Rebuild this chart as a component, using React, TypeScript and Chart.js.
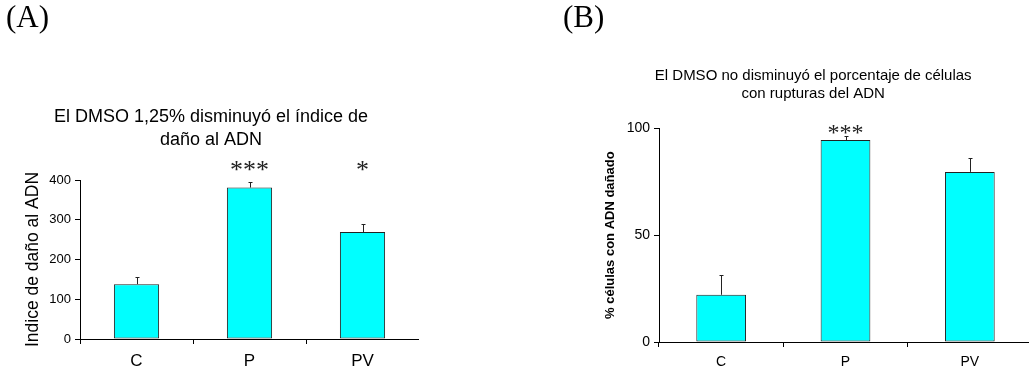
import React, { useEffect, useRef } from 'react';
import { Chart, registerables } from 'chart.js';

Chart.register(...registerables);

// ---------- data ----------
const categories = ['C', 'P', 'PV'];

const damageIndex = [138, 381, 269];
const damageIndexErr = [19, 14, 20];
const damageIndexSig = ['', '***', '*'];
const damageIndexTicks = [0, 100, 200, 300, 400];

const damagedCells = [22.1, 94.5, 79.6];
const damagedCellsErr = [9.3, 1.9, 6.5];
const damagedCellsSig = ['', '***', ''];
const damagedCellsTicks = [0, 50, 100];

const titleA = ['El DMSO 1,25% disminuyó el índice de', 'daño al ADN'];
const yTitleA = 'Indice de daño al ADN';
const titleB = ['El DMSO no disminuyó el porcentaje de células', 'con rupturas del ADN'];
const yTitleB = '% células con ADN dañado';

const SANS = '"Liberation Sans", Arial, Helvetica, sans-serif';
const SERIF = '"Liberation Serif", "Times New Roman", serif';

const errorBarPlugin = {
  id: 'errorBars',
  afterDatasetsDraw(chart: any, _args: any, opts: any) {
    const { ctx } = chart;
    const y = chart.scales.y;
    const meta = chart.getDatasetMeta(0);
    const vals = chart.data.datasets[0].data as number[];
    const errs: number[] = opts.errors || [];
    const sig: string[] = opts.sig || [];
    ctx.save();
    ctx.strokeStyle = opts.color || '#333';
    ctx.lineWidth = 1;
    meta.data.forEach((bar: any, i: number) => {
      const x = Math.round(bar.x) + 0.5;
      const y0 = y.getPixelForValue(vals[i]);
      const y1 = Math.round(y.getPixelForValue(vals[i] + errs[i])) + 0.5;
      ctx.beginPath();
      ctx.moveTo(x, y0);
      ctx.lineTo(x, y1);
      ctx.moveTo(x - 2, y1);
      ctx.lineTo(x + 2, y1);
      ctx.stroke();
    });
    ctx.fillStyle = '#222';
    ctx.font = opts.sigFont;
    ctx.textAlign = 'center';
    ctx.textBaseline = 'middle';
    const sy = y.getPixelForValue(opts.sigLevel);
    meta.data.forEach((bar: any, i: number) => {
      if (sig[i]) ctx.fillText(sig[i], bar.x, sy);
    });
    ctx.restore();
  },
};

const xGridColor = (c: any) => (c.index === undefined ? 'rgba(0,0,0,0)' : '#000');

function makeConfig(p: {
  values: number[];
  errors: number[];
  sig: string[];
  sigLevel: number;
  sigFont: string;
  ticks: number[];
  max: number;
  title: string[];
  titleSize: number;
  titleLineHeight: number;
  titlePadTop: number;
  titlePadBottom: number;
  yTitle: string;
  yTitleFont: any;
  yTitlePad: number;
  yTickSize: number;
  yWidth: number;
  xLabelSize: number;
  xLabelPad: number;
  xHeight: number;
  padLeft: number;
}): any {
  return {
    type: 'bar',
    data: {
      labels: categories,
      datasets: [
        {
          data: p.values,
          backgroundColor: '#00FFFF',
          borderColor: '#222',
          borderWidth: 1,
          borderSkipped: false,
          barPercentage: 0.4,
          categoryPercentage: 1,
        },
      ],
    },
    plugins: [errorBarPlugin],
    options: {
      animation: false,
      responsive: false,
      devicePixelRatio: 1,
      events: [],
      layout: { padding: { left: p.padLeft, right: 0, top: 0, bottom: 0 } },
      plugins: {
        legend: { display: false },
        tooltip: { enabled: false },
        title: {
          display: true,
          text: p.title,
          color: '#000',
          font: { family: SANS, size: p.titleSize, weight: 'normal', lineHeight: p.titleLineHeight },
          padding: { top: p.titlePadTop, bottom: p.titlePadBottom },
        },
        errorBars: { errors: p.errors, sig: p.sig, sigLevel: p.sigLevel, sigFont: p.sigFont, color: '#222' },
      },
      scales: {
        x: {
          grid: { display: true, drawOnChartArea: false, drawTicks: true, tickLength: 5, color: xGridColor, offset: true },
          border: { display: true, color: '#000', width: 1 },
          ticks: { color: '#000', font: { family: SANS, size: p.xLabelSize }, padding: p.xLabelPad },
          afterFit: (s: any) => {
            s.height = p.xHeight;
          },
        },
        y: {
          min: 0,
          max: p.max,
          afterBuildTicks: (s: any) => {
            s.ticks = p.ticks.map((v) => ({ value: v }));
          },
          grid: { display: true, drawOnChartArea: false, drawTicks: true, tickLength: 5, color: '#000' },
          border: { display: true, color: '#000', width: 1 },
          ticks: { color: '#000', font: { family: SANS, size: p.yTickSize }, padding: 4 },
          title: {
            display: true,
            text: p.yTitle,
            color: '#000',
            font: p.yTitleFont,
            padding: { top: p.yTitlePad, bottom: 0 },
          },
          afterFit: (s: any) => {
            s.width = p.yWidth;
          },
        },
      },
    },
  };
}

export default function App() {
  const refA = useRef<HTMLCanvasElement>(null);
  const refB = useRef<HTMLCanvasElement>(null);

  useEffect(() => {
    const a = new Chart(
      refA.current as HTMLCanvasElement,
      makeConfig({
        values: damageIndex,
        errors: damageIndexErr,
        sig: damageIndexSig,
        sigLevel: 423,
        sigFont: `26px ${SERIF}`,
        ticks: damageIndexTicks,
        max: 400,
        title: titleA,
        titleSize: 18,
        titleLineHeight: 23 / 18,
        titlePadTop: 105.5,
        titlePadBottom: 28.5,
        yTitle: yTitleA,
        yTitleFont: { family: SANS, size: 17.5, weight: 'normal' },
        yTitlePad: 19.5,
        yTickSize: 13,
        yWidth: 77,
        xLabelSize: 17,
        xLabelPad: 7.5,
        xHeight: 34,
        padLeft: 3,
      })
    );
    const b = new Chart(
      refB.current as HTMLCanvasElement,
      makeConfig({
        values: damagedCells,
        errors: damagedCellsErr,
        sig: damagedCellsSig,
        sigLevel: 97.5,
        sigFont: `24px ${SERIF}`,
        ticks: damagedCellsTicks,
        max: 100,
        title: titleB,
        titleSize: 15,
        titleLineHeight: 1.2,
        titlePadTop: 67,
        titlePadBottom: 25.3,
        yTitle: yTitleB,
        yTitleFont: { family: SANS, size: 13, weight: 'bold' },
        yTitlePad: 7.8,
        yTickSize: 14,
        yWidth: 64.6,
        xLabelSize: 14,
        xLabelPad: 6.3,
        xHeight: 31,
        padLeft: 34.4,
      })
    );
    return () => {
      a.destroy();
      b.destroy();
    };
  }, []);

  const panelLabel: React.CSSProperties = {
    position: 'absolute',
    top: 1,
    fontFamily: SERIF,
    fontSize: 31,
    lineHeight: 1,
    color: '#000',
    whiteSpace: 'nowrap',
  };

  return (
    <div
      style={{
        position: 'absolute',
        left: 0,
        top: 0,
        width: 1029,
        height: 373,
        overflow: 'hidden',
        background: '#fff',
      }}
    >
      <canvas
        ref={refA}
        width={419}
        height={373}
        style={{ position: 'absolute', left: 0, top: 0, width: 419, height: 373 }}
      />
      <canvas
        ref={refB}
        width={472}
        height={373}
        style={{ position: 'absolute', left: 560, top: 0, width: 472, height: 373 }}
      />
      <div style={{ ...panelLabel, left: 6 }}>(A)</div>
      <div style={{ ...panelLabel, left: 563 }}>(B)</div>
    </div>
  );
}
